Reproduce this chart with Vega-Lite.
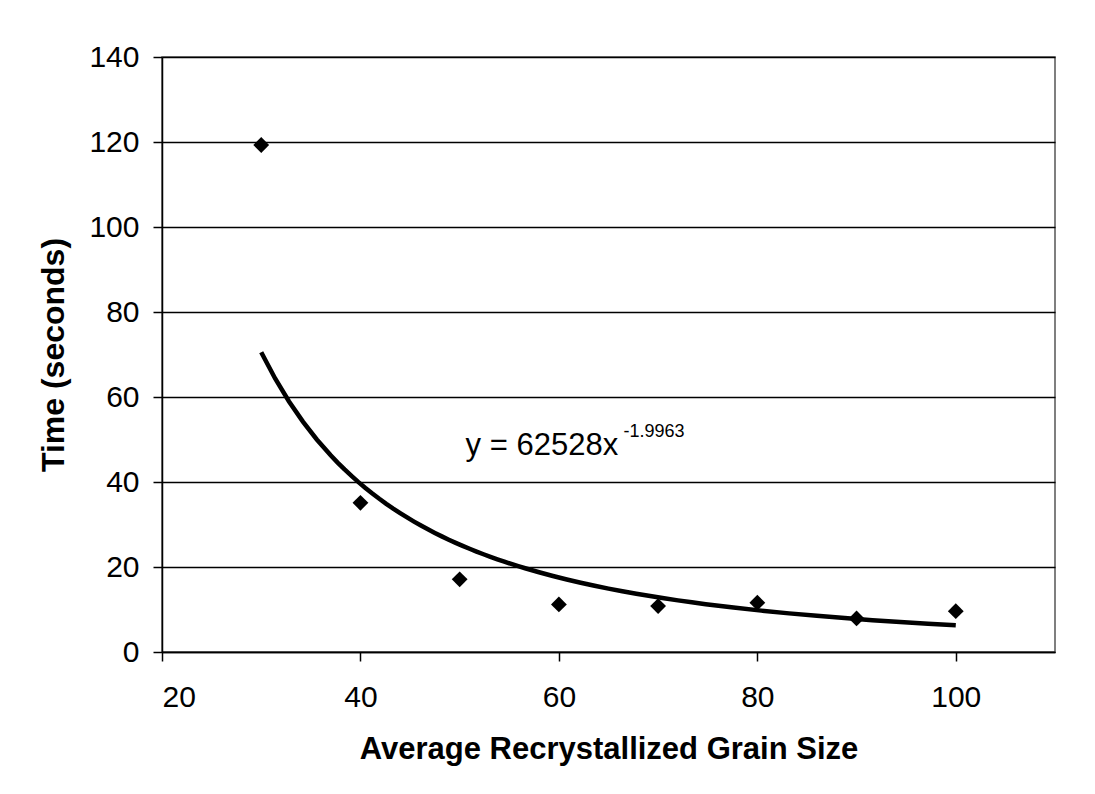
{
  "$schema": "https://vega.github.io/schema/vega-lite/v6.json",
  "autosize": {"type": "none"},
  "width": 893,
  "height": 595,
  "padding": {"left": 162, "top": 57, "right": 40, "bottom": 142},
  "background": "white",
  "config": {
    "font": "Liberation Sans",
    "view": {"stroke": "#555555", "strokeWidth": 1.5},
    "axis": {
      "labelFont": "Liberation Sans",
      "titleFont": "Liberation Sans",
      "labelFontSize": 30,
      "titleFontSize": 31,
      "titleFontWeight": "bold",
      "labelColor": "black",
      "titleColor": "black",
      "domainColor": "black",
      "domainWidth": 1.5,
      "tickColor": "black",
      "tickWidth": 1.5,
      "tickSize": 9
    }
  },
  "data": {
    "values": [
      {"grain": 30, "time": 119.3},
      {"grain": 40, "time": 35.1},
      {"grain": 50, "time": 17.1},
      {"grain": 60, "time": 11.2},
      {"grain": 70, "time": 10.8},
      {"grain": 80, "time": 11.6},
      {"grain": 90, "time": 7.9},
      {"grain": 100, "time": 9.6}
    ]
  },
  "layer": [
    {
      "mark": {"type": "point", "shape": "diamond", "filled": true, "color": "black", "size": 250, "opacity": 1},
      "encoding": {
        "x": {
          "field": "grain", "type": "quantitative",
          "scale": {"domain": [20, 110], "nice": false, "zero": false},
          "axis": {"values": [20, 40, 60, 80, 100], "grid": false, "title": "Average Recrystallized Grain Size", "labelPadding": 21, "titlePadding": 22}
        },
        "y": {
          "field": "time", "type": "quantitative",
          "scale": {"domain": [0, 140], "nice": false},
          "axis": {"values": [0, 20, 40, 60, 80, 100, 120, 140], "grid": true, "gridColor": "black", "gridWidth": 1.5, "gridOpacity": 1, "title": "Time (seconds)", "titleFontSize": 32, "labelPadding": 14, "titlePadding": 18}
        }
      }
    },
    {
      "transform": [
        {"regression": "time", "on": "grain", "method": "pow", "extent": [30, 100]}
      ],
      "mark": {"type": "line", "color": "black", "strokeWidth": 4.5},
      "encoding": {
        "x": {"field": "grain", "type": "quantitative"},
        "y": {"field": "time", "type": "quantitative"}
      }
    },
    {
      "data": {"values": [{}]},
      "mark": {"type": "text", "text": "y = 62528x", "align": "left", "baseline": "alphabetic", "fontSize": 31, "color": "black"},
      "encoding": {
        "x": {"datum": 50.6},
        "y": {"datum": 46.4}
      }
    },
    {
      "data": {"values": [{}]},
      "mark": {"type": "text", "text": "-1.9963", "align": "left", "baseline": "alphabetic", "fontSize": 18, "color": "black"},
      "encoding": {
        "x": {"datum": 66.5},
        "y": {"datum": 50.6}
      }
    }
  ]
}
